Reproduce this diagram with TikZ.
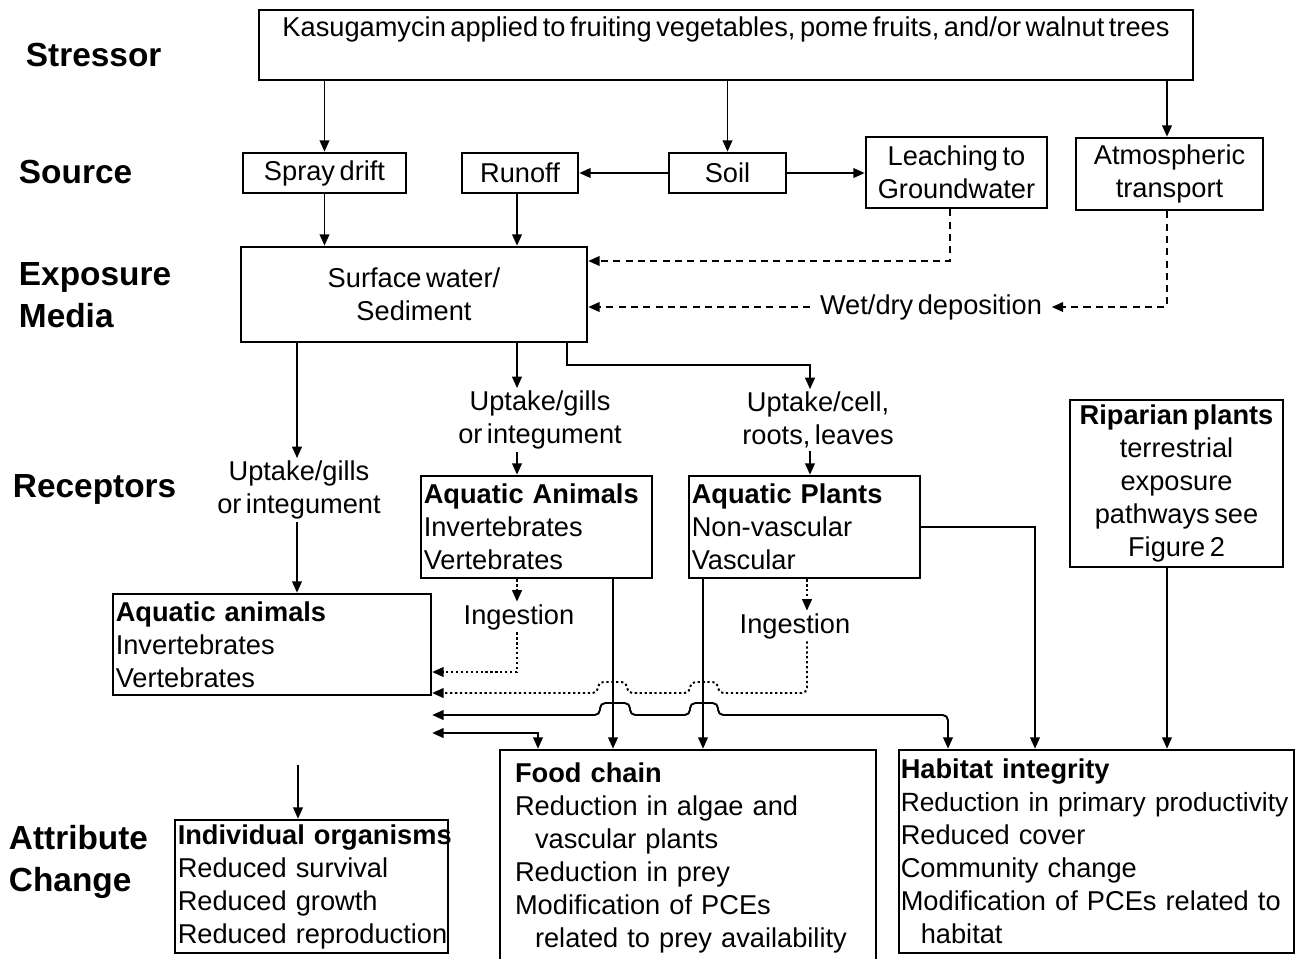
\documentclass[tikz,border=0pt]{standalone}
\usepackage{fontspec}
\setmainfont{Liberation Sans}[WordSpace=0.6]
\usetikzlibrary{arrows.meta}

\newcommand{\boxfont}{\fontsize{15.5pt}{18.8pt}\selectfont}
\newcommand{\stagefont}{\fontsize{19pt}{24pt}\selectfont\bfseries}

\begin{document}
\begin{tikzpicture}[x=0.02cm, y=-0.02cm, line width=1.1pt, font=\boxfont,
  >={Triangle[length=6.5pt,width=5.5pt]},
  box/.style={draw, line width=1.5pt, inner sep=0pt, align=center},
  listbox/.style={box, align=left, inner xsep=1.5pt},
  stage/.style={anchor=west, align=left, font=\stagefont, inner sep=0pt},
  route/.style={inner sep=1pt, align=center},
  dashline/.style={dash pattern=on 4pt off 3pt},
  dotline/.style={dash pattern=on 1.3pt off 1.5pt}]
  \useasboundingbox (0,0) rectangle (1297,958);
  \clip (0,0) rectangle (1297,958);

  %% Row labels
  \node[stage] (stressor) at (25,55) {Stressor};
  \node[stage] (source) at (18,172) {Source};
  \node[stage] (media) at (18,295) {Exposure\\Media};
  \node[stage] (receptors) at (12,489) {Receptors};
  \node[stage] (change) at (8,862) {Attribute\\Change};

  %% Stressor and sources
  \node[box, minimum width=18.68cm, text height=0.52cm, text depth=0.88cm]
    (stress) at (726,45)
    {Kasugamycin applied to fruiting vegetables, pome fruits, and/or walnut trees};
  \node[box, minimum width=3.26cm, minimum height=0.8cm] (spray) at (324.5,173) {Spray drift};
  \node[box, minimum width=2.32cm, minimum height=0.8cm] (runoff) at (520,173) {Runoff};
  \node[box, minimum width=2.34cm, minimum height=0.8cm] (soil) at (727.5,173) {Soil};
  \node[box, minimum width=3.62cm, minimum height=1.42cm] (leach) at (956.5,172.5) {Leaching to\\Groundwater};
  \node[box, minimum width=3.74cm, minimum height=1.44cm] (atmos) at (1169.5,174) {Atmospheric\\transport};

  %% Exposure media
  \node[box, minimum width=6.92cm, minimum height=1.9cm] (surf) at (414,294.5) {Surface water/\\Sediment};
  \node[route, inner xsep=5pt] (wet) at (931,307) {Wet/dry deposition};

  %% Receptors
  \node[route] (upl) at (299,490) {Uptake/gills\\or integument};
  \node[route] (upm) at (540,420) {Uptake/gills\\or integument};
  \node[route] (upr) at (818,420) {Uptake/cell,\\roots, leaves};
  \node[listbox, text width=4.51cm, minimum height=2.04cm] (aqanim) at (536.5,527)
    {\textbf{Aquatic Animals}\\Invertebrates\\Vertebrates};
  \node[listbox, text width=4.51cm, minimum height=2.04cm] (aqplant) at (804.5,527)
    {\textbf{Aquatic Plants}\\Non-vascular\\Vascular};
  \node[box, minimum width=4.26cm, minimum height=3.34cm] (riparian) at (1176.5,483.5)
    {\textbf{Riparian plants}\\terrestrial\\exposure\\pathways see\\Figure 2};
  \node[listbox, text width=6.25cm, minimum height=2.02cm] (animals) at (272,644.5)
    {\textbf{Aquatic animals}\\Invertebrates\\Vertebrates};
  \node[route] (ing1) at (519,617) {Ingestion};
  \node[route] (ing2) at (795,626) {Ingestion};

  %% Attribute change
  \node[listbox, text width=5.35cm, minimum height=2.66cm] (indiv) at (311.5,886.5)
    {\mbox{\textbf{Individual organisms}}\\Reduced survival\\Reduced growth\\\mbox{Reduced reproduction}};
  \node[listbox, text width=6.92cm, inner xsep=0.3cm, minimum height=4.32cm] (food) at (688,858)
    {\textbf{Food chain}\\Reduction in algae and\\\hspace*{0.4cm}vascular plants\\Reduction in prey\\
     Modification of PCEs\\\hspace*{0.4cm}\mbox{related to prey availability}};
  \node[listbox, text width=7.83cm, inner xsep=1pt, minimum height=4.06cm] (habitat) at (1096.5,851.5)
    {\textbf{Habitat integrity}\\\mbox{\fontsize{15pt}{18.8pt}\selectfont Reduction in primary productivity}\\
     Reduced cover\\Community change\\
     \mbox{Modification of PCEs related to}\\\hspace*{0.4cm}habitat};

  %% bus positions
  \coordinate (xa) at (297,0);
  \coordinate (xb) at (517,0);
  \coordinate (xc) at (567,0);
  \coordinate (xd) at (810,0);
  \coordinate (xe) at (613,0);
  \coordinate (xf) at (703,0);
  \coordinate (xg) at (1035,0);
  \coordinate (xh) at (1167,0);
  \coordinate (xi) at (807,0);
  \coordinate (xj) at (538,0);
  \coordinate (xk) at (948,0);
  \coordinate (xm) at (950,0);
  \coordinate (ya) at (0,365);
  \coordinate (yb) at (0,672);
  \coordinate (yc) at (0,693);
  \coordinate (yd) at (0,715);
  \coordinate (ye) at (0,733);
  \coordinate (ia) at (298,765);

  %% stressor to sources
  \draw[->] (stress.south -| spray.north) -- (spray.north);
  \draw[->] (stress.south -| soil.north) -- (soil.north);
  \draw[->] (stress.south -| xh) -- (atmos.north -| xh);
  \draw[->] (soil.west) -- (runoff.east);
  \draw[->] (soil.east) -- (soil.east -| leach.west);

  %% sources to media
  \draw[->] (spray.south) -- (spray.south |- surf.north);
  \draw[->] (runoff.south -| xb) -- (surf.north -| xb);
  \draw[->, dashline] (leach.south -| xm) |- ([yshift=0.67cm]surf.east);
  \draw[->, dashline] (atmos.south -| xh) |- (wet.east);
  \draw[->, dashline] (wet.west) -- (wet.west -| surf.east);

  %% media to receptors
  \draw[->] (surf.south -| xa) -- (upl.north -| xa);
  \draw[->] (upl.south -| xa) -- (animals.north -| xa);
  \draw[->] (surf.south -| xb) -- (upm.north -| xb);
  \draw[->] (upm.south -| xb) -- (aqanim.north -| xb);
  \draw[->] (surf.south -| xc) -- (xc |- ya) -| (upr.north -| xd);
  \draw[->] (upr.south -| xd) -- (aqplant.north -| xd);

  %% ingestion
  \draw[->, dotline] (aqanim.south -| xb) -- (ing1.north -| xb);
  \draw[->, dotline] (ing1.south -| xb) |- (animals.east |- yb);
  \draw[->, dotline] (aqplant.south -| xi) -- (ing2.north -| xi);
  \draw[->, dotline, rounded corners=3pt] (ing2.south -| xi) -- (xi |- yc)
    -- (718,693) -- (718,682) -- (690,682) -- (690,693)
    -- (627,693) -- (627,682) -- (598,682) -- (598,693) -- (animals.east |- yc);

  %% receptors to attribute change
  \draw[->] (aqanim.south -| xe) -- (food.north -| xe);
  \draw[->] (aqplant.south -| xf) -- (food.north -| xf);
  \draw[->] (aqplant.east) -| (habitat.north -| xg);
  \draw[->] (riparian.south -| xh) -- (habitat.north -| xh);
  \draw[<->, rounded corners=3pt] (animals.east |- yd)
    -- (600,715) -- (600,703) -- (630,703) -- (630,715)
    -- (690,715) -- (690,703) -- (718,703) -- (718,715) -| (habitat.north -| xk);
  \draw[<->] (animals.east |- ye) -| (food.north -| xj);
  \draw[->] (ia) -- (indiv.north -| ia);
\end{tikzpicture}
\end{document}
